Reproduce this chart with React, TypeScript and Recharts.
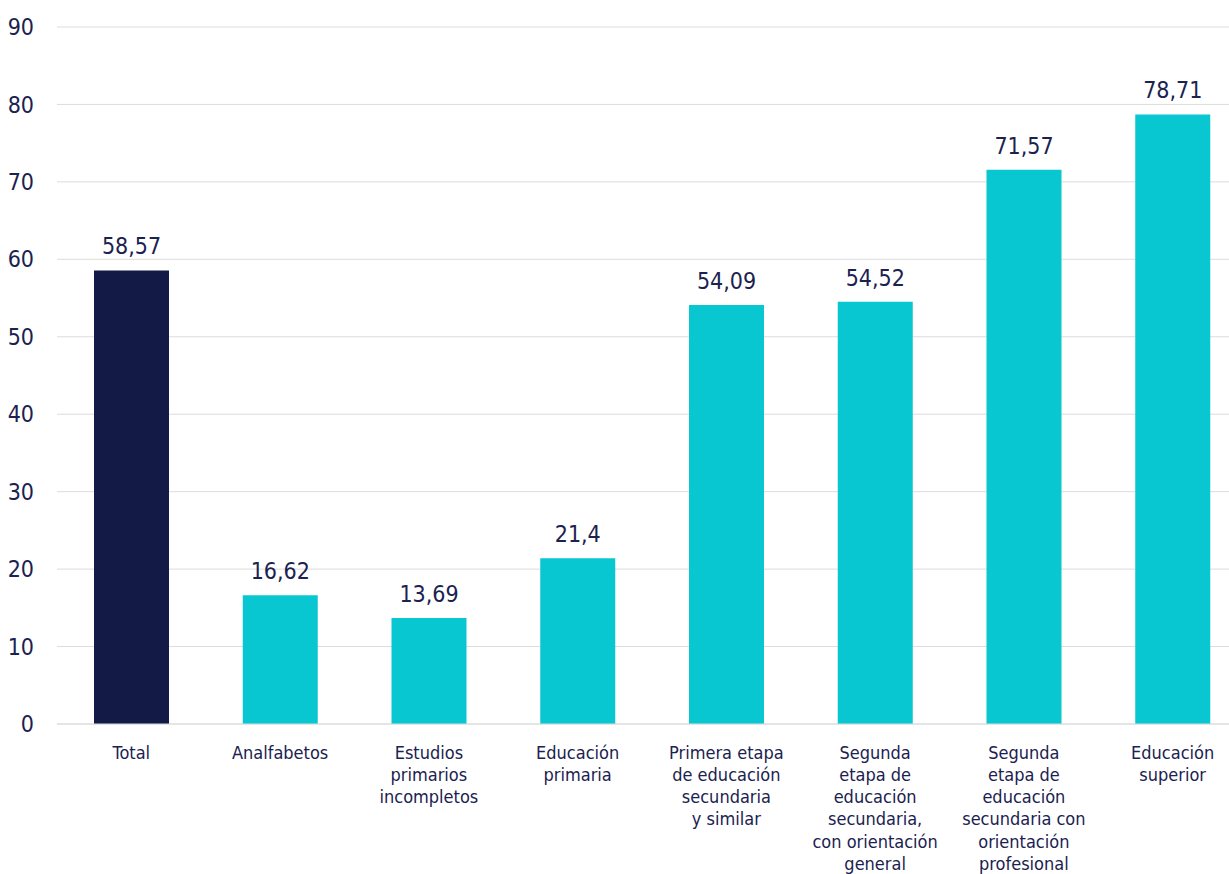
import { Bar, BarChart, CartesianGrid, Cell, LabelList, XAxis, YAxis } from "recharts";

const categories = [
  "Total",
  "Analfabetos",
  "Estudios\nprimarios\nincompletos",
  "Educación\nprimaria",
  "Primera etapa\nde educación\nsecundaria\ny similar",
  "Segunda\netapa de\neducación\nsecundaria,\ncon orientación\ngeneral",
  "Segunda\netapa de\neducación\nsecundaria con\norientación\nprofesional",
  "Educación\nsuperior",
];
const values = [58.57, 16.62, 13.69, 21.4, 54.09, 54.52, 71.57, 78.71];
const yTicks = [0, 10, 20, 30, 40, 50, 60, 70, 80, 90];

const NAVY = "#121a45";
const CYAN = "#08c7d1";
const TEXT = "#1b2250";
const FONT = "'DejaVu Sans Condensed', 'DejaVu Sans', Verdana, sans-serif";

const data = categories.map((c, i) => ({ name: c, value: values[i] }));

function XTick(props: any) {
  const { x, y, payload } = props;
  const lines = String(payload.value).split("\n");
  return (
    <text x={x} y={y} textAnchor="middle" fill={TEXT} fontSize={18} fontFamily={FONT}>
      {lines.map((l, i) => (
        <tspan key={i} x={x} dy={i === 0 ? 26.5 : 22.3}>
          {l}
        </tspan>
      ))}
    </text>
  );
}

export default function App() {
  // the plot runs a little past the right edge of the window in the reference
  return (
    <div
      style={{
        position: "absolute",
        left: 0,
        top: 0,
        width: 1229,
        height: 874,
        overflow: "hidden",
        background: "#fff",
      }}
    >
      <BarChart
        width={1247}
        height={874}
        data={data}
        margin={{ top: 27, right: 0, left: 0, bottom: 0 }}
        barCategoryGap={0}
      >
        <CartesianGrid vertical={false} stroke="#dcdcdc" strokeWidth={1} />
        <XAxis
          dataKey="name"
          axisLine={{ stroke: "#dcdcdc" }}
          tickLine={false}
          interval={0}
          height={150}
          tick={<XTick />}
        />
        <YAxis
          domain={[0, 90]}
          ticks={yTicks}
          width={57}
          axisLine={false}
          tickLine={false}
          tickMargin={17}
          tick={{ fill: TEXT, fontSize: 23, fontFamily: FONT }}
        />
        <Bar dataKey="value" barSize={75} isAnimationActive={false}>
          {data.map((d, i) => (
            <Cell key={d.name} fill={i === 0 ? NAVY : CYAN} />
          ))}
          <LabelList
            dataKey="value"
            position="top"
            offset={16}
            fill={TEXT}
            fontSize={23}
            fontFamily={FONT}
            formatter={(v: any) => String(v).replace(".", ",")}
          />
        </Bar>
      </BarChart>
    </div>
  );
}
